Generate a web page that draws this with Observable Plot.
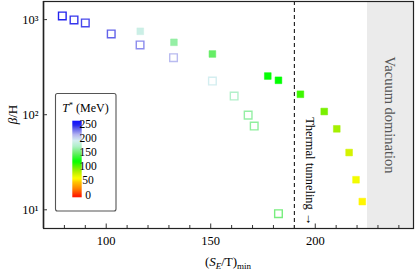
<!DOCTYPE html>
<html>
<head>
<meta charset="utf-8">
<script src="https://cdn.jsdelivr.net/npm/d3@7"></script>
<script src="https://cdn.jsdelivr.net/npm/@observablehq/plot@0.6"></script>
<style>
  html, body { margin: 0; padding: 0; background: white; }
  #chart svg { display: block; }
</style>
</head>
<body>
<div id="chart"></div>
<script>
// ---- data ----
const openX = [79.0, 84.6, 90.0, 102.4, 116.2, 132.2, 150.8, 161.2, 167.9, 170.8, 182.4];
const openY = [1094, 993, 923, 707, 542, 398, 226, 157, 99, 76, 9.1];
const openT = [250, 246, 242, 236, 226, 214, 195, 176, 166, 164, 156];

const fillX = [116.3, 132.4, 150.8, 177.3, 182.4, 192.9, 204.3, 210.3, 216.2, 219.5, 222.5];
const fillY = [753, 577, 435, 255, 230, 164, 108, 71, 40, 20.7, 12.2];
const fillT = [190, 166, 150, 124, 122, 110, 98, 88, 76, 66, 60];

const xMajorTicks = [100, 150, 200];
const xMinorTicks = [80, 90, 110, 120, 130, 140, 160, 170, 180, 190, 210, 220, 230, 240];
const yTicks = [10, 100, 1000];
const thermalLine = [190];
const vacuumStart = 225;
const xMax = 247;
const legendTicks = [0, 50, 100, 150, 200, 250];

const colorDomain = [0, 25, 50, 62, 80, 100, 122, 150, 175, 195, 215, 235, 250, 265];
const colorRange = ["#ff1a00", "#ff8000", "#ffc800", "#ffff00", "#c8f000", "#70f000", "#00ff00",
                    "#66ee66", "#b0f0c8", "#d4eef0", "#b8b8f0", "#6868ea", "#2424ee", "#1010ff"];

const openPts = openX.map((x, i) => ({x, y: openY[i], t: openT[i]}));
const fillPts = fillX.map((x, i) => ({x, y: fillY[i], t: fillT[i]}));
const sup = {1: "¹", 2: "²", 3: "³"};

const W = 415, H = 271, mL = 43, mR = 2, mT = 1, mB = 43;
const frameH = H - mT - mB, frameW = W - mL - mR;
const serif = "Liberation Serif, DejaVu Serif, serif";

const plot = Plot.plot({
  width: W, height: H,
  marginLeft: mL, marginRight: mR, marginTop: mT, marginBottom: mB,
  style: {fontFamily: serif, fontSize: "12px", background: "white", color: "black"},
  x: {domain: [70, xMax], label: null},
  y: {type: "log", domain: [6.36, 1550], label: null},
  color: {type: "linear", domain: colorDomain, range: colorRange, clamp: true},
  marks: [
    Plot.rect([{x1: vacuumStart, x2: xMax}], {x1: "x1", x2: "x2", fill: "#ebebeb"}),
    Plot.ruleX(thermalLine, {stroke: "black", strokeWidth: 1, strokeDasharray: "4,3"}),
    Plot.text(["Vacuum domination"], {x: (vacuumStart + xMax) / 2, frameAnchor: "middle", text: d => d,
      rotate: 90, fill: "#555", fontSize: 14.5, dx: -1}),
    Plot.text(["Thermal tunneling →"], {x: thermalLine[0], frameAnchor: "bottom", text: d => d,
      rotate: 90, textAnchor: "end", fill: "black", fontSize: 12.5, dx: 12, dy: -3}),
    Plot.axisX(xMajorTicks, {tickSize: 0, tickPadding: 8, fontSize: 12.5, tickFormat: d => String(d)}),
    Plot.axisY(yTicks, {tickSize: 0, tickPadding: 5, fontSize: 12.5, tickFormat: d => "10" + sup[Math.round(Math.log10(d))]}),
    Plot.tickX(xMinorTicks, {x: d => d, insetTop: frameH - 3, stroke: "#333", strokeWidth: 1}),
    Plot.tickX(xMajorTicks, {x: d => d, insetTop: frameH - 4.5, stroke: "#333", strokeWidth: 1}),
    Plot.tickY(yTicks, {y: d => d, insetRight: frameW - 4, stroke: "#333", strokeWidth: 1}),
    Plot.dot(openPts, {x: "x", y: "y", stroke: "t", symbol: "square", r: 4.3, strokeWidth: 1.4, fill: "none"}),
    Plot.dot(fillPts, {x: "x", y: "y", fill: "t", stroke: "t", strokeOpacity: 0.5, symbol: "square", r: 3.8, strokeWidth: 1}),
    Plot.ruleX([70], {stroke: "#777", strokeWidth: 1.8}),
    Plot.frame({stroke: "#222", strokeWidth: 1.2})
  ]
});

document.getElementById("chart").appendChild(plot);

// ---- extra text & legend ----
const svg = d3.select(plot);

// y label
const yl = svg.append("text")
  .attr("transform", `translate(14,${mT + frameH / 2}) rotate(-90)`)
  .attr("text-anchor", "middle").attr("dominant-baseline", "middle")
  .style("font-family", serif).style("font-size", "13px");
yl.append("tspan").attr("font-style", "italic").text("β");
yl.append("tspan").text("/H");

// x label
const xl = svg.append("text")
  .attr("x", mL + frameW / 2).attr("y", 266)
  .attr("text-anchor", "middle")
  .style("font-family", serif).style("font-size", "13px");
xl.append("tspan").text("(");
xl.append("tspan").attr("font-style", "italic").text("S");
xl.append("tspan").attr("font-style", "italic").style("font-size", "9px").attr("dy", 3).text("E");
xl.append("tspan").attr("dy", -3).text("/T)");
xl.append("tspan").style("font-size", "9px").attr("dy", 3).text("min");

// legend
const colorScale = Plot.scale({color: plot.scale("color")});
const lg = svg.append("g");
lg.append("rect").attr("x", 55.5).attr("y", 93.5).attr("width", 60.5).attr("height", 117.5)
  .attr("rx", 2).attr("fill", "white").attr("stroke", "#555").attr("stroke-width", 1.1);
const lt = lg.append("text").attr("x", 85.5).attr("y", 111.5).attr("text-anchor", "middle")
  .style("font-family", serif).style("font-size", "12px");
lt.append("tspan").attr("font-style", "italic").text("T");
lt.append("tspan").style("font-size", "8px").attr("dy", -4).text("*");
lt.append("tspan").attr("dy", 4).text(" (MeV)");

const barTop = 120.7, barBot = 197.3, v0y = 196, v250y = 125;
const vy = v => v0y + (v250y - v0y) * v / 250;
const vTop = (barTop - v0y) / (v250y - v0y) * 250;
const vBot = (barBot - v0y) / (v250y - v0y) * 250;
const grad = svg.append("defs").append("linearGradient").attr("id", "cbar")
  .attr("x1", 0).attr("y1", 1).attr("x2", 0).attr("y2", 0);
d3.range(0, 51).forEach(i => {
  const v = vBot + (vTop - vBot) * i / 50;
  grad.append("stop").attr("offset", i / 50).attr("stop-color", colorScale.apply(v));
});
lg.append("rect").attr("x", 72.3).attr("y", barTop).attr("width", 9.4).attr("height", barBot - barTop)
  .attr("fill", "url(#cbar)");
legendTicks.forEach(v => {
  lg.append("text").attr("x", 88).attr("y", vy(v)).attr("dominant-baseline", "middle")
    .style("font-family", serif).style("font-size", "11.5px").text(v);
});
</script>
</body>
</html>
